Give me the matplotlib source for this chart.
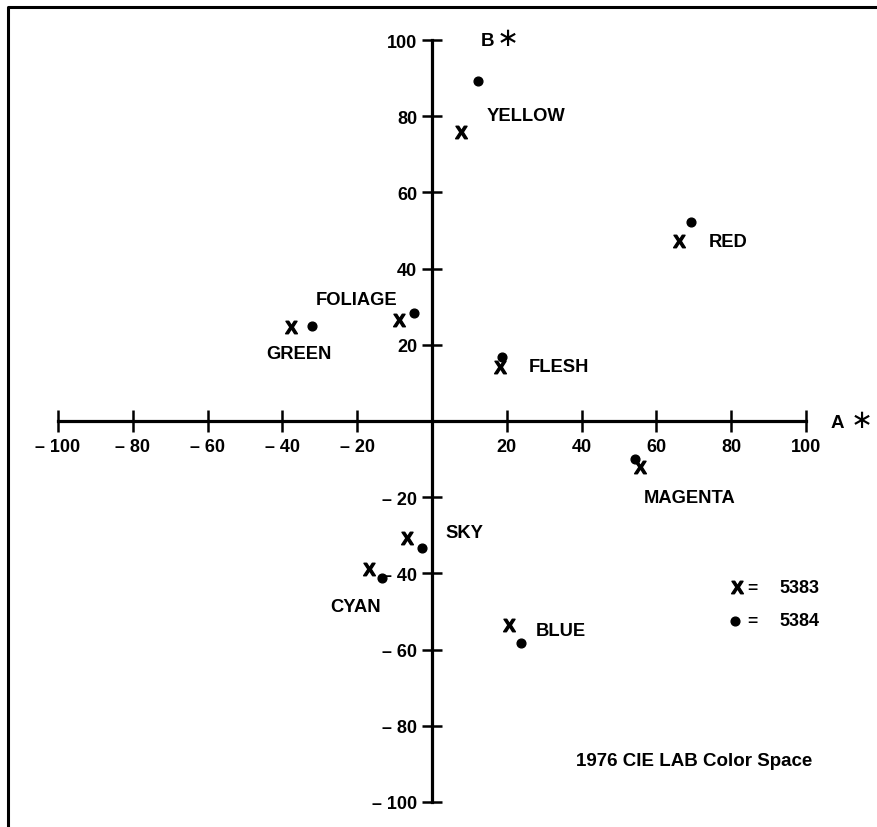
import matplotlib
matplotlib.use("Agg")
import matplotlib.pyplot as plt
from matplotlib.lines import Line2D
from matplotlib.ticker import FuncFormatter

plt.rcParams["font.family"] = ["Liberation Sans", "DejaVu Sans"]
plt.rcParams["font.weight"] = "bold"
plt.rcParams["mathtext.fontset"] = "custom"
plt.rcParams["mathtext.bf"] = "Liberation Sans:bold"

# colour patches measured on the two samples (a*, b*)
colors = ["YELLOW", "RED", "GREEN", "FOLIAGE", "FLESH", "MAGENTA", "SKY", "CYAN", "BLUE"]
a_5383 = [7.8, 66.0, -37.7, -8.8, 18.2, 55.6, -6.7, -16.8, 20.6]
b_5383 = [75.9, 47.2, 24.7, 26.5, 14.2, -12.0, -30.7, -38.8, -53.5]
a_5384 = [12.3, 69.2, -32.0, -4.8, 18.7, 54.3, -2.7, -13.4, 23.8]
b_5384 = [89.2, 52.2, 25.0, 28.3, 16.8, -10.0, -33.3, -41.2, -58.3]

# where each colour name is written
label_a = [14.7, 74.0, -44.4, -31.0, 25.9, 69.0, 3.7, -27.3, 27.8]
label_b = [80.3, 47.2, 17.8, 32.0, 14.4, -20.0, -29.4, -48.6, -54.9]
label_ha = ["left", "left", "left", "left", "left", "center", "left", "left", "left"]

ticks = [-100, -80, -60, -40, -20, 20, 40, 60, 80, 100]
sample_ids = ["5383", "5384"]

fig = plt.figure(figsize=(8.77, 8.28), dpi=100)
ax = fig.add_axes([0, 0, 1, 1])
ax.set_xlim(-115.5, 119.0)
ax.set_ylim(-106.6, 110.8)

for side in ["top", "right"]:
    ax.spines[side].set_visible(False)
for side in ["left", "bottom"]:
    ax.spines[side].set_position(("data", 0))
    ax.spines[side].set_bounds(-100, 100)
    ax.spines[side].set_linewidth(2.3)

def signed(v, pos):
    v = int(round(v))
    return f"\u2013 {abs(v)}" if v < 0 else f"{v}"

ax.set_xticks(ticks)
ax.set_yticks(ticks)
ax.xaxis.set_major_formatter(FuncFormatter(signed))
ax.yaxis.set_major_formatter(FuncFormatter(signed))
ax.tick_params(axis="x", direction="inout", length=16, width=1.8, pad=4, labelsize=13)
ax.tick_params(axis="y", direction="inout", length=14, width=1.8, pad=3.5, labelsize=13)

ax.plot(a_5383, b_5383, ls="none", marker=r"$\mathbf{X}$", ms=9, color="black")
ax.plot(a_5384, b_5384, ls="none", marker="o", ms=6.3, color="black")

for name, x, y, ha in zip(colors, label_a, label_b, label_ha):
    ax.text(x, y, name, ha=ha, va="center", fontsize=13.2, fontweight="bold")

# axis names with a large star
ax.text(108.3, -0.5, "A", ha="center", va="center", fontsize=13.5, fontweight="bold")
ax.text(115.0, 0.3, "\u2217", ha="center", va="center", fontsize=19,
        family="DejaVu Sans", fontweight="normal")
ax.text(14.9, 99.8, "B", ha="center", va="center", fontsize=13.5, fontweight="bold")
ax.text(20.2, 100.6, "\u2217", ha="center", va="center", fontsize=19,
        family="DejaVu Sans", fontweight="normal")

# key for the two samples
ax.plot([81.6], [-43.6], ls="none", marker=r"$\mathbf{X}$", ms=9, color="black")
ax.plot([81.0], [-52.5], ls="none", marker="o", ms=6.3, color="black")
for y, sid in zip([-43.6, -52.5], sample_ids):
    ax.text(85.8, y, "=", ha="center", va="center", fontsize=12.5, fontweight="bold")
    ax.text(92.8, y, sid, ha="left", va="center", fontsize=13, fontweight="bold")

ax.text(70.0, -89.2, "1976 CIE LAB Color Space", ha="center", va="center",
        fontsize=13.5, fontweight="bold")

# page frame
fig.add_artist(Line2D([8 / 877, 8 / 877, 1.0], [0.0, 1 - 8 / 828, 1 - 8 / 828],
                      transform=fig.transFigure, color="black", lw=2.2))

fig.savefig("out.png", dpi=100)
